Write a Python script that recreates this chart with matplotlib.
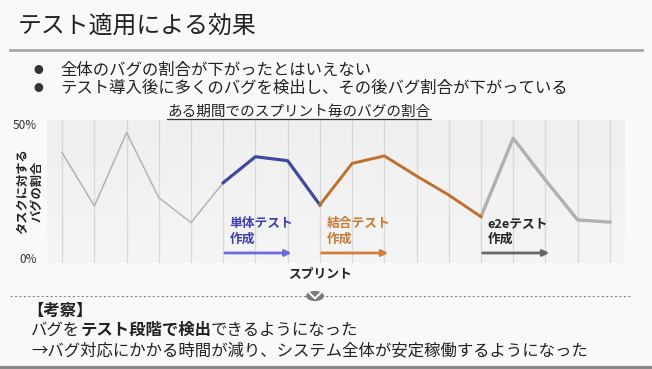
import matplotlib
matplotlib.use("Agg")
import matplotlib.pyplot as plt
import numpy as np
from matplotlib.patches import Circle
from matplotlib.lines import Line2D

plt.rcParams['font.family'] = ['Noto Sans CJK JP', 'DejaVu Sans']

# ---- data ----
sprints = list(range(18))
bug_ratio = [39.3, 19.4, 46.8, 22.5, 13.2, 28.1, 37.8, 36.3, 19.8,
             35.3, 38.1, 30.6, 23.5, 15.4, 44.7, 29.1, 14.2, 13.4]
# phase boundaries (sprint indices)
unit_phase = (5, 8)
integ_phase = (8, 13)
e2e_phase = (13, 17)
ytick_vals = [0, 50]
ytick_labels = ['0%', '50%']
slide_title = 'テスト適用による効果'
bullets = ['全体のバグの割合が下がったとはいえない',
           'テスト導入後に多くのバグを検出し、その後バグ割合が下がっている']
chart_title = 'ある期間でのスプリント毎のバグの割合'

W, H = 652, 369
fig = plt.figure(figsize=(W / 100, H / 100), dpi=100)
fig.patch.set_facecolor('#f9f9f9')

def fy(y):  # pixel from top -> fig fraction
    return 1 - y / H

def fx(x):
    return x / W

# slide header
fig.text(fx(18), fy(26), slide_title, fontsize=17.2, color='#222222', va='center', ha='left')
fig.add_artist(Line2D([fx(10), fx(642)], [fy(49.5), fy(49.5)], color='#a9a9a9', lw=2))
for yy, b in zip([70, 88], bullets):
    fig.text(fx(38), fy(yy), '●', fontsize=7, color='#333333', va='center', ha='center')
    fig.text(fx(60), fy(yy), b, fontsize=11.8, color='#222222', va='center', ha='left')

# chart axes
ax = fig.add_axes([fx(47), fy(263), fx(625) - fx(47), fy(120) - fy(263)])
ax.set_xlim(-0.47, 17.47)
ax.set_ylim(-1.87, 51.5)
grad = np.linspace(0, 1, 100).reshape(-1, 1)
ax.imshow(grad, extent=[-0.47, 17.47, -1.87, 51.5], aspect='auto',
          cmap=matplotlib.colors.LinearSegmentedColormap.from_list('g', ['#efefef', '#f5f5f5']),
          origin='upper', zorder=0)
for s in sprints:
    ax.axvline(s, color='#d9d9d9', lw=1, zorder=1)
for sp in ax.spines.values():
    sp.set_visible(False)
ax.set_xticks([])
ax.set_yticks(ytick_vals)
ax.set_yticklabels(ytick_labels, fontsize=8.5, color='#333333')
ax.tick_params(axis='y', length=0, pad=7)

x = np.array(sprints)
y = np.array(bug_ratio)
ax.plot(x[:unit_phase[0] + 1], y[:unit_phase[0] + 1], color='#b3b3b3', lw=1.1, zorder=3)
ax.plot(x[unit_phase[0]:unit_phase[1] + 1], y[unit_phase[0]:unit_phase[1] + 1], color='#3d4a9e', lw=2.3, zorder=4)
ax.plot(x[integ_phase[0]:integ_phase[1] + 1], y[integ_phase[0]:integ_phase[1] + 1], color='#c0702c', lw=2.1, zorder=4)
ax.plot(x[e2e_phase[0]:e2e_phase[1] + 1], y[e2e_phase[0]:e2e_phase[1] + 1], color='#b0b0b0', lw=2.4, zorder=3)

phases = [(unit_phase, '単体テスト\n作成', '#4040b0', '#6b6be0'),
          (integ_phase, '結合テスト\n作成', '#c87a35', '#d0803a'),
          (e2e_phase, 'e2eテスト\n作成', '#222222', '#666666')]
for (st, en), lbl, tc, ac in phases:
    ax.text(st + 0.2, 10.0, lbl, fontsize=9.2, color=tc, fontweight='bold',
            ha='left', va='center', linespacing=1.25, zorder=5)
    ax.annotate('', xy=(st + 2.12, 1.87), xytext=(st + 0.05, 1.87),
                arrowprops=dict(arrowstyle='-|>', color=ac, lw=2, mutation_scale=9,
                                shrinkA=0, shrinkB=0), zorder=5)

fig.text(fx(30), fy(191), 'タスクに対する\nバグの割合', fontsize=8.8, fontweight='bold',
         rotation=90, ha='center', va='center', color='#222222', linespacing=1.2)
fig.text(fx(320), fy(274), 'スプリント', fontsize=9.2, fontweight='bold', ha='center', va='center', color='#222222')

t = fig.text(fx(299), fy(112), chart_title, fontsize=10.5, ha='center', va='center', color='#222222')

# dotted separator with circle
fig.add_artist(Line2D([fx(10), fx(630)], [fy(296), fy(296)], color='#888888', lw=0.8, linestyle=(0, (2, 2))))
fig.add_artist(Circle((fx(315), fy(296)), radius=9 / W, transform=fig.transFigure,
                      facecolor='#7a7a7a', edgecolor='none', zorder=5))
fig.add_artist(Line2D([fx(309.5), fx(315), fx(320.5)], [fy(293), fy(298.5), fy(293)],
                      color='white', lw=1.4, zorder=6))

fig.text(fx(27), fy(311), '【考察】', fontsize=11.8, fontweight='bold', color='#222222', va='center', ha='left')
parts = [('バグを', 'normal'), ('テスト段階で検出', 'bold'), ('できるようになった', 'normal')]
fig.text(fx(31), fy(351), '→バグ対応にかかる時間が減り、システム全体が安定稼働するようになった',
         fontsize=11.8, color='#222222', va='center', ha='left')

fig.add_artist(Line2D([0, 1], [fy(367.5), fy(367.5)], color='#8a8a8a', lw=3))

fig.canvas.draw()
r = fig.canvas.get_renderer()
# underline chart title
bb = t.get_window_extent(r)
fig.add_artist(Line2D([bb.x0 / W, bb.x1 / W], [fy(119), fy(119)], color='#333333', lw=0.9))
# mixed-weight line
cx = 31
for txt, w in parts:
    tt = fig.text(fx(cx), fy(330), txt, fontsize=11.8, fontweight=w, color='#222222', va='center', ha='left')
    b2 = tt.get_window_extent(r)
    cx += b2.width

fig.savefig('out.png', dpi=100, facecolor=fig.get_facecolor())
